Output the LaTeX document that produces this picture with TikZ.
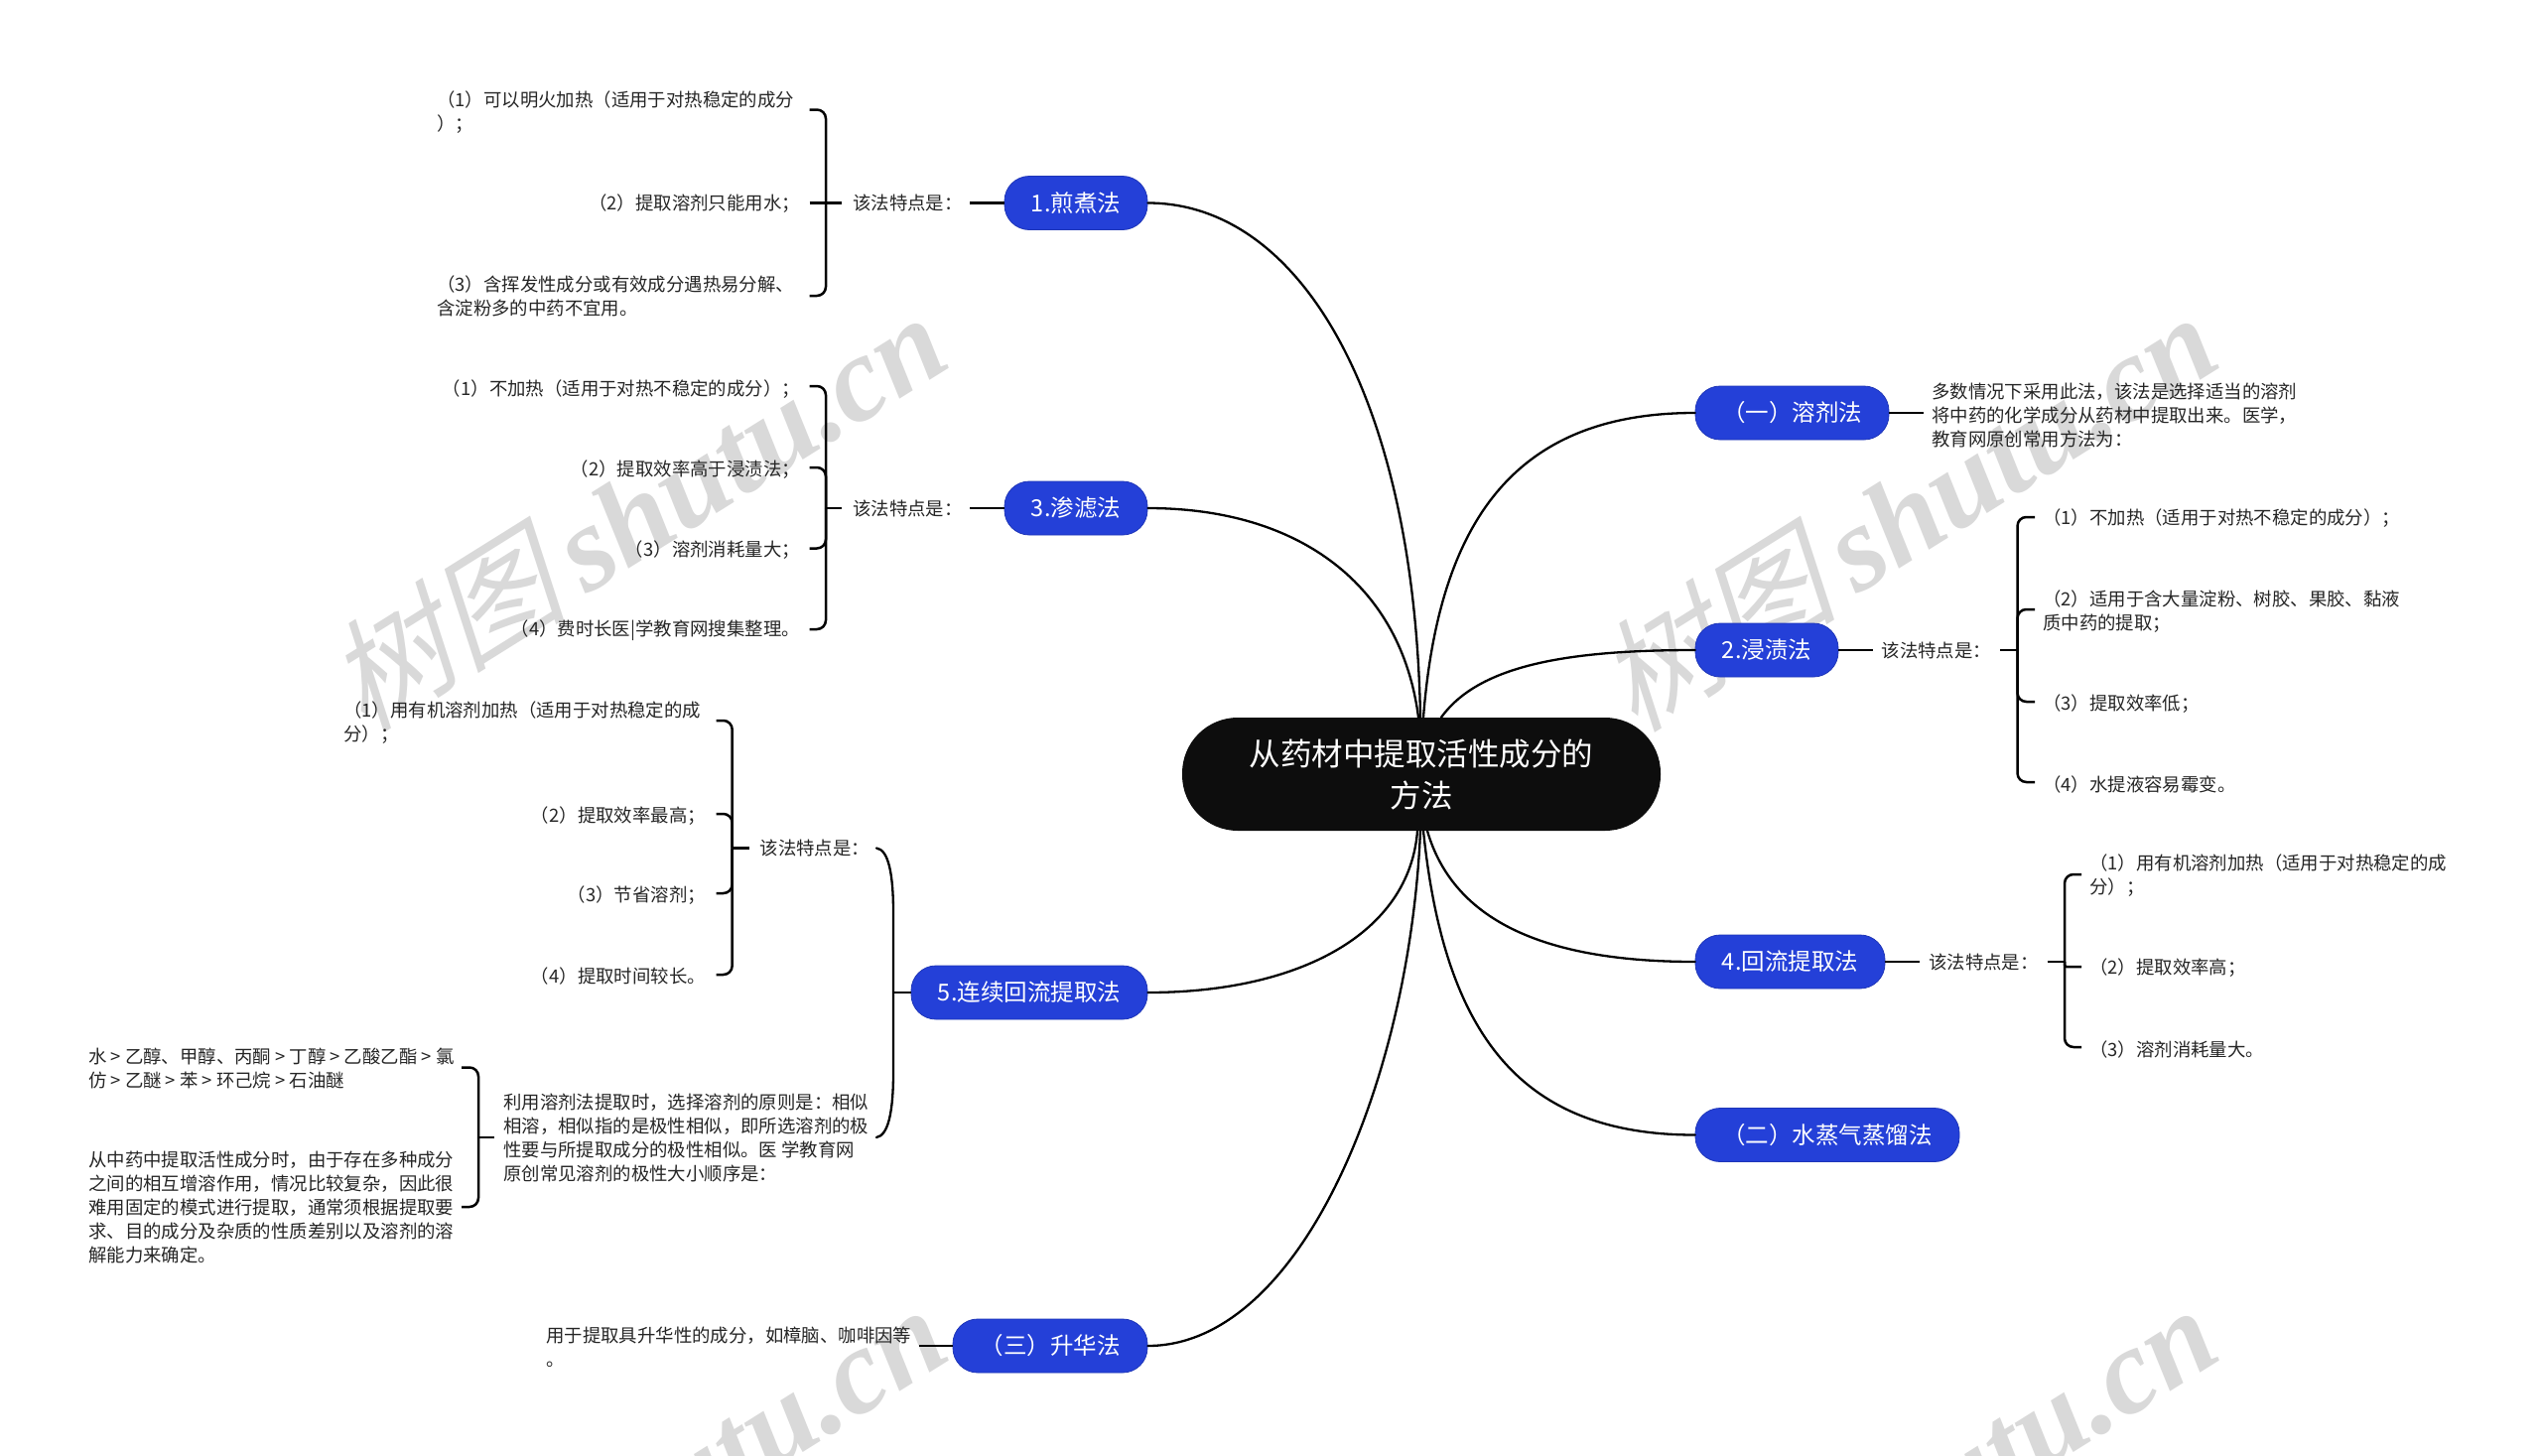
\documentclass[tikz,border=0pt]{standalone}
\usepackage{fontspec}
\setmainfont{Noto Sans CJK SC}
\newfontfamily\wmcjk[FakeSlant=0.25]{Noto Sans CJK SC}
\newfontfamily\wmlat{Liberation Serif}
\definecolor{nodeblue}{HTML}{2440D8}
\definecolor{rootblack}{HTML}{0D0D0D}
\definecolor{bodytext}{HTML}{262626}
\definecolor{wmgray}{HTML}{D9D9D9}
\tikzset{
  topic/.style={fill=nodeblue,draw=nodeblue!85!black,line width=0.8pt,rounded corners=25pt,text=white,minimum height=54pt,inner sep=0pt,font=\fontsize{23.5}{28}\selectfont},
  rootnode/.style={fill=rootblack,rounded corners=56pt,text=white,minimum width=482pt,minimum height=114pt,inner sep=0pt,align=center,font=\fontsize{31.5}{42}\selectfont},
  item/.style={inner sep=0pt,align=left,text=bodytext,font=\fontsize{18.4}{24}\selectfont},
  curve/.style={draw=black,line width=2.3pt,line cap=round},
  tree/.style={draw=black,line width=2.5pt,rounded corners=9pt},
  watermark/.style={text=wmgray,rotate=32,inner sep=0pt,font=\fontsize{122}{122}\selectfont},
}
\newcommand{\wmtext}{{\wmcjk 树图}\,{\wmlat\itshape\bfseries shutu.cn}}
\begin{document}
\begin{tikzpicture}[x=1pt,y=-1pt]
\useasboundingbox (0,0) rectangle (2560,1467);
\fill[white] (0,0) rectangle (2560,1467);
% watermarks
\node[watermark] (wm1) at (640,514) {\wmtext};
\node[watermark] (wm2) at (1920,514) {\wmtext};
\node[watermark] (wm3) at (640,1514) {\wmtext};
\node[watermark] (wm4) at (1920,1514) {\wmtext};
% root and topics
\node[rootnode] (root) at (1432,780) {从药材中提取活性成分的\\方法};
\node[topic,minimum width=144pt] (n1) at (1084,204.5) {1.煎煮法};
\node[topic,minimum width=144pt] (n3) at (1084,512) {3.渗滤法};
\node[topic,minimum width=238pt] (n5) at (1037,1000) {5.连续回流提取法};
\node[topic,minimum width=196pt] (n6) at (1058,1356) {（三）升华法};
\node[topic,minimum width=195pt] (m1) at (1805.5,416) {（一）溶剂法};
\node[topic,minimum width=144pt] (m2) at (1780,655) {2.浸渍法};
\node[topic,minimum width=191pt] (m4) at (1803.5,969) {4.回流提取法};
\node[topic,minimum width=266pt] (m5) at (1841,1143.5) {（二）水蒸气蒸馏法};
% root connectors
\draw[curve] (n1.east) .. controls (1310,204.5) and (1425,400) .. ([xshift=-1pt]root.north);
\draw[curve] (n3.east) .. controls (1310,512) and (1412,590) .. ([xshift=-3pt]root.north);
\draw[curve] (m1.west) .. controls (1530,416) and (1450,520) .. ([xshift=2pt]root.north);
\draw[curve] (m2.west) .. controls (1580,655) and (1490,670) .. ([xshift=20pt]root.north);
\draw[curve] (n5.east) .. controls (1310,1000) and (1420,940) .. ([xshift=-4pt]root.south);
\draw[curve] (n6.east) .. controls (1310,1356) and (1420,1090) .. ([xshift=-1pt]root.south);
\draw[curve] (m4.west) .. controls (1560,969) and (1465,930) .. ([xshift=6pt]root.south);
\draw[curve] (m5.west) .. controls (1530,1143.5) and (1455,1040) .. ([xshift=2pt]root.south);
% labels
\node[item,anchor=west] (l1) at (859,204.5) {该法特点是：};
\node[item,anchor=west] (l3) at (859,512) {该法特点是：};
\node[item,anchor=west] (l5) at (765.5,854) {该法特点是：};
\node[item,anchor=west] (r2) at (1895.5,655) {该法特点是：};
\node[item,anchor=west] (r4) at (1943,969) {该法特点是：};
% group 1
\node[item,anchor=west] (a1) at (440,113) {（1）可以明火加热（适用于对热稳定的成分\\）；};
\node[item,anchor=east] (a2) at (806,205.5) {（2）提取溶剂只能用水；};
\node[item,anchor=west] (a3) at (440,298) {（3）含挥发性成分或有效成分遇热易分解、\\含淀粉多的中药不宜用。};
\coordinate (sa) at (832,204.5);
\coordinate (ta1) at (815.5,110.5);
\coordinate (ta2) at (815.5,204.5);
\coordinate (ta3) at (815.5,298);
\draw[tree] (n1.west) -- (977,204.5);
\draw[tree] (ta2) -- (848,204.5);
\draw[tree] (sa) |- (ta1);
\draw[tree] (sa) |- (ta3);
% group 3
\node[item,anchor=east] (b1) at (806,392) {（1）不加热（适用于对热不稳定的成分）；};
\node[item,anchor=east] (b2) at (806,473) {（2）提取效率高于浸渍法；};
\node[item,anchor=east] (b3) at (806,554) {（3）溶剂消耗量大；};
\node[item,anchor=east] (b4) at (806,635.5) {（4）费时长医|学教育网搜集整理。};
\coordinate (sb) at (832,512);
\coordinate (tb1) at (815.5,389);
\coordinate (tb2) at (815.5,471);
\coordinate (tb3) at (815.5,552.5);
\coordinate (tb4) at (815.5,634);
\draw[tree] (n3.west) -- (977,512);
\draw[tree] (sb) -- (848,512);
\draw[tree] (sb) |- (tb1);
\draw[tree] (sb) |- (tb2);
\draw[tree] (sb) |- (tb3);
\draw[tree] (sb) |- (tb4);
% group 5 upper
\node[item,anchor=west] (c1) at (346,728.5) {（1）用有机溶剂加热（适用于对热稳定的成\\分）；};
\node[item,anchor=east] (c2) at (711,822) {（2）提取效率最高；};
\node[item,anchor=east] (c3) at (711,902) {（3）节省溶剂；};
\node[item,anchor=east] (c4) at (711,983.5) {（4）提取时间较长。};
\coordinate (sc) at (737.7,854.5);
\coordinate (tc1) at (721.5,726);
\coordinate (tc2) at (721.5,820);
\coordinate (tc3) at (721.5,900);
\coordinate (tc4) at (721.5,982);
\draw[tree] (sc) -- (754.5,854.5);
\draw[tree] (sc) |- (tc1);
\draw[tree] (sc) |- (tc2);
\draw[tree] (sc) |- (tc3);
\draw[tree] (sc) |- (tc4);
% group 5 lower
\node[item,anchor=west] (d0) at (507,1146) {利用溶剂法提取时，选择溶剂的原则是：相似\\相溶，相似指的是极性相似，即所选溶剂的极\\性要与所提取成分的极性相似。医 学教育网\\原创常见溶剂的极性大小顺序是：};
\node[item,anchor=west] (d1) at (89,1076.5) {水 > 乙醇、甲醇、丙酮 > 丁醇 > 乙酸乙酯 > 氯\\仿 > 乙醚 > 苯 > 环己烷 > 石油醚};
\node[item,anchor=west] (d2) at (89,1217) {从中药中提取活性成分时，由于存在多种成分\\之间的相互增溶作用，情况比较复杂，因此很\\难用固定的模式进行提取，通常须根据提取要\\求、目的成分及杂质的性质差别以及溶剂的溶\\解能力来确定。};
\coordinate (sd) at (482,1146);
\coordinate (td1) at (465,1075.5);
\coordinate (td2) at (465,1216);
\draw[tree] (sd) -- (498,1146);
\draw[tree] (sd) |- (td1);
\draw[tree] (sd) |- (td2);
% big brace of node 5
\coordinate (se) at (900,1000);
\coordinate (te1) at (883,854.5);
\coordinate (te2) at (883,1146);
\draw[tree] (n5.west) -- (se);
\draw[curve] (te1) .. controls (895,856) and (900,880) .. (900,920) -- (se) -- (900,1080) .. controls (900,1120) and (895,1144) .. (te2);
% sublimation
\node[item,anchor=west] (e1) at (550,1357) {用于提取具升华性的成分，如樟脑、咖啡因等\\。};
\coordinate (te3) at (925.5,1356);
\draw[tree] (n6.west) -- (te3);
% right 1
\node[item,anchor=west] (f1) at (1946,418) {多数情况下采用此法，该法是选择适当的溶剂\\将中药的化学成分从药材中提取出来。医学，\\教育网原创常用方法为：};
\draw[tree] (m1.east) -- (1938,416);
% right 2
\node[item,anchor=west] (g1) at (2058,522.5) {（1）不加热（适用于对热不稳定的成分）；};
\node[item,anchor=west] (g2) at (2058,616) {（2）适用于含大量淀粉、树胶、果胶、黏液\\质中药的提取；};
\node[item,anchor=west] (g3) at (2058,709) {（3）提取效率低；};
\node[item,anchor=west] (g4) at (2058,790) {（4）水提液容易霉变。};
\coordinate (sg) at (2032.5,655);
\coordinate (tg1) at (2050,521);
\coordinate (tg2) at (2050,614);
\coordinate (tg3) at (2050,707);
\coordinate (tg4) at (2050,788);
\draw[tree] (m2.east) -- (1887,655);
\draw[tree] (2015,655) -- (sg);
\draw[tree] (sg) |- (tg1);
\draw[tree] (sg) |- (tg2);
\draw[tree] (sg) |- (tg3);
\draw[tree] (sg) |- (tg4);
% right 4
\node[item,anchor=west] (h1) at (2105,882.5) {（1）用有机溶剂加热（适用于对热稳定的成\\分）；};
\node[item,anchor=west] (h2) at (2105,975.5) {（2）提取效率高；};
\node[item,anchor=west] (h3) at (2105,1057) {（3）溶剂消耗量大。};
\coordinate (sh) at (2080,969);
\coordinate (th1) at (2097,881);
\coordinate (th2) at (2097,974);
\coordinate (th3) at (2097,1055);
\draw[tree] (m4.east) -- (1933.5,969);
\draw[tree] (2062.5,969) -- (sh);
\draw[tree] (sh) |- (th1);
\draw[tree,rounded corners=2pt] (sh) |- (th2);
\draw[tree] (sh) |- (th3);
\end{tikzpicture}
\end{document}
